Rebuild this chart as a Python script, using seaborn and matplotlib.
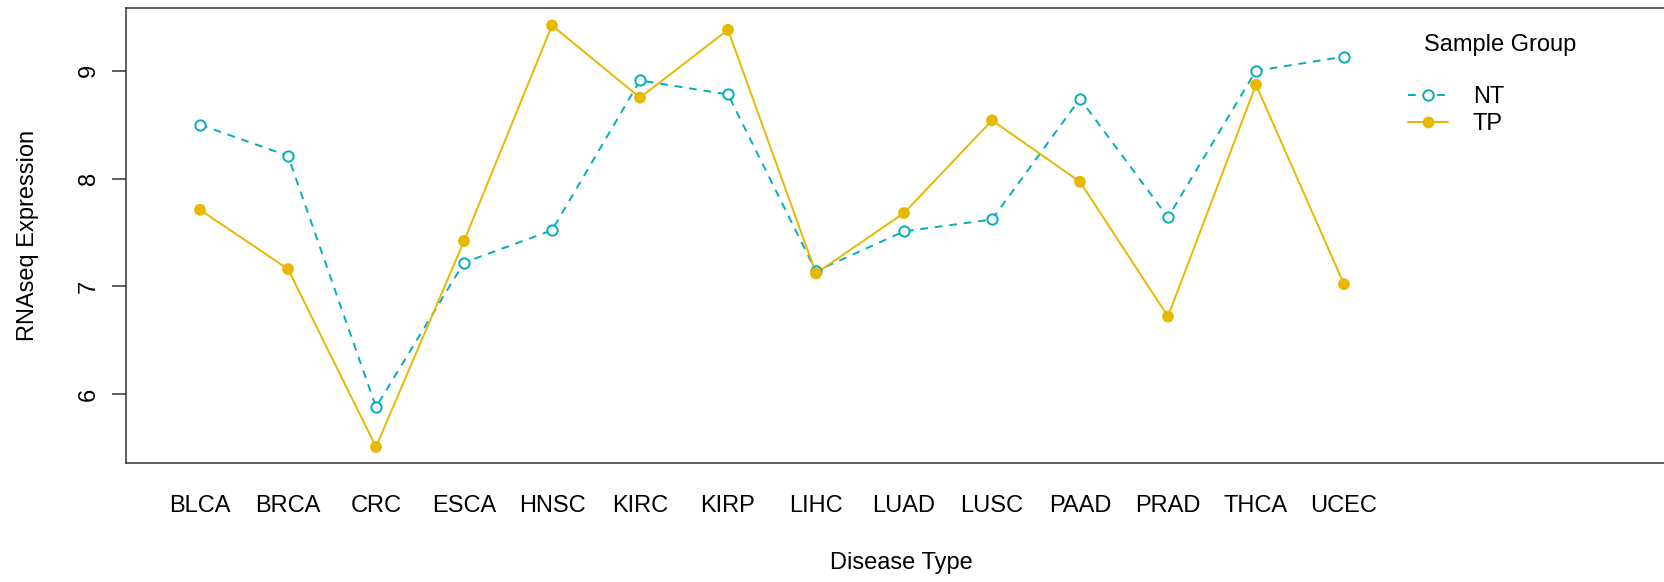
import pandas as pd
import matplotlib.pyplot as plt
import seaborn as sns
from matplotlib.lines import Line2D

# --- data ---
diseases = ["BLCA", "BRCA", "CRC", "ESCA", "HNSC", "KIRC", "KIRP",
            "LIHC", "LUAD", "LUSC", "PAAD", "PRAD", "THCA", "UCEC"]
nt_values = [8.50, 8.21, 5.88, 7.22, 7.52, 8.91, 8.78,
             7.14, 7.51, 7.62, 8.74, 7.64, 9.00, 9.13]
tp_values = [7.71, 7.16, 5.51, 7.42, 9.42, 8.75, 9.38,
             7.12, 7.68, 8.54, 7.97, 6.72, 8.87, 7.02]
groups = ["NT", "TP"]
y_ticks = [6, 7, 8, 9]

colors = {"NT": "#00AFBB", "TP": "#E7B800"}

df = pd.DataFrame({
    "disease": diseases * 2,
    "value": nt_values + tp_values,
    "group": ["NT"] * len(diseases) + ["TP"] * len(diseases),
})

# --- style ---
sns.set_style("white")
plt.rcParams["font.family"] = ["Liberation Sans", "DejaVu Sans"]
plt.rcParams["text.color"] = "black"
plt.rcParams["axes.labelcolor"] = "black"
plt.rcParams["xtick.color"] = "black"
plt.rcParams["ytick.color"] = "black"
fs = 17

fig = plt.figure(figsize=(16.65, 5.82), dpi=100)
ax = fig.add_axes([126 / 1665, 1 - 463 / 582, 1 - 126 / 1665, (463 - 8) / 582])

# lines
sns.lineplot(data=df, x="disease", y="value", hue="group", style="group",
             palette=colors, dashes={"NT": (4, 3.5), "TP": ""},
             linewidth=1.4, legend=False, ax=ax, sort=False)

# points
nt = df[df["group"] == "NT"]
tp = df[df["group"] == "TP"]
sns.scatterplot(data=nt, x="disease", y="value", s=55, facecolor="white",
                edgecolor=colors["NT"], linewidth=1.4, ax=ax, zorder=4)
sns.scatterplot(data=tp, x="disease", y="value", s=72, color=colors["TP"],
                edgecolor="none", ax=ax, zorder=5)

ax.set_xlim(-0.841, 16.648)
ax.set_ylim(5.361, 9.582)

ax.set_yticks(y_ticks)
ax.set_yticklabels([str(t) for t in y_ticks], rotation=90, va="center", fontsize=fs)
ax.tick_params(axis="y", length=10, width=1.1, color="#333333", pad=9, left=True)
ax.tick_params(axis="x", length=0, pad=23, labelsize=fs)

ax.set_xlabel("Disease Type", fontsize=fs)
ax.set_ylabel("RNAseq Expression", fontsize=fs)
ax.xaxis.set_label_coords((901 - 126) / 1539, (463 - 552) / 455)
ax.yaxis.set_label_coords((39 - 126) / 1539, 0.5)

for side in ["left", "top", "bottom"]:
    ax.spines[side].set_color("#333333")
    ax.spines[side].set_linewidth(1.1)
ax.spines["right"].set_visible(False)

# legend
handles = [
    Line2D([], [], color=colors["NT"], linestyle=(0, (4, 3.5)), linewidth=1.4,
           marker="o", markersize=7.5, markerfacecolor="white",
           markeredgecolor=colors["NT"], markeredgewidth=1.4),
    Line2D([], [], color=colors["TP"], linewidth=1.4, marker="o",
           markersize=8.5, markeredgecolor="none"),
]
fig.legend(handles, groups, loc="upper left",
           bbox_to_anchor=(1408 / 1665, 1 - 86 / 582),
           frameon=False, fontsize=fs, handlelength=1.7, handletextpad=1.05,
           labelspacing=0.22, borderpad=0, borderaxespad=0)
fig.text(1500 / 1665, 1 - 45 / 582, "Sample Group", ha="center", va="center",
         fontsize=fs)

fig.savefig("out.png", dpi=100)
